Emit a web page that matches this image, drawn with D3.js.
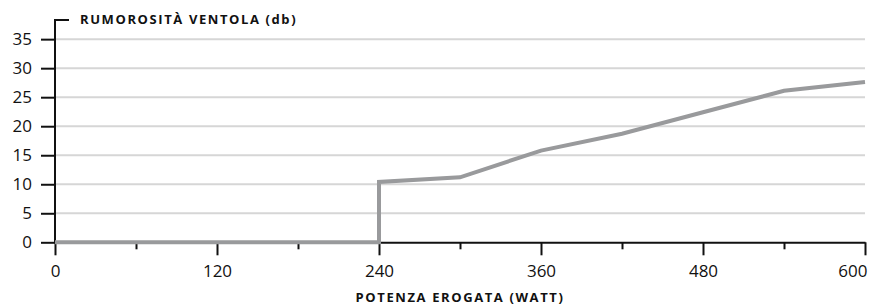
<!doctype html>
<html>
<head>
	<meta charset="utf-8">
	<script src="https://cdn.jsdelivr.net/npm/d3@7/dist/d3.min.js"></script>
	<style>
		body { margin: 0; background: #fff; }
		svg text { font-family: "Open Sans", Lato, sans-serif; fill: #111; }
		.tick text { font-size: 17px; }
		.title { font-size: 13px; font-weight: bold; letter-spacing: 1.6px; }
	</style>
</head>
<body>
<script>
	// data
	var watt  = [0, 240, 240, 300, 360, 420, 480, 540, 600];
	var noise = [0, 0, 10.4, 11.2, 15.8, 18.7, 22.4, 26.1, 27.6];
	var xTicks = [0, 120, 240, 360, 480, 600];
	var xMinor = [60, 180, 300, 420, 540];
	var yTicks = [0, 5, 10, 15, 20, 25, 30, 35];
	var yTitle = "RUMOROSITÀ VENTOLA (db)";
	var xTitle = "POTENZA EROGATA (WATT)";

	var W = 875, H = 306;
	var mLeft = 55, mRight = 865, mTop = 20, mBottom = 242.3;

	var svg = d3.select("body").append("svg")
		.attr("width", W)
		.attr("height", H);

	var x = d3.scaleLinear().domain([0, 600]).range([mLeft, mRight]);
	var y = d3.scaleLinear().domain([0, 38.3]).range([mBottom, mTop]);

	// grid
	svg.append("g")
		.selectAll("line")
		.data(yTicks.filter(d => d > 0))
		.enter().append("line")
			.attr("x1", mLeft).attr("x2", mRight)
			.attr("y1", d => y(d)).attr("y2", d => y(d))
			.attr("stroke", "#d6d6d6")
			.attr("stroke-width", 2);

	// y axis
	var yAxis = svg.append("g")
		.attr("transform", "translate(" + mLeft + ",0)")
		.call(d3.axisLeft(y).tickValues(yTicks).tickSize(14).tickPadding(9).tickSizeOuter(0));
	yAxis.select(".domain").remove();
	yAxis.selectAll(".tick line").attr("stroke", "#111").attr("stroke-width", 2);
	svg.append("path")
		.attr("d", "M" + (mLeft + 14) + "," + mTop + "H" + mLeft + "V" + mBottom)
		.attr("fill", "none")
		.attr("stroke", "#111")
		.attr("stroke-width", 2);

	// x axis
	var xAxis = svg.append("g")
		.attr("transform", "translate(0," + mBottom + ")")
		.call(d3.axisBottom(x).tickValues(xTicks).tickSize(13).tickPadding(10).tickSizeOuter(0));
	xAxis.select(".domain").attr("stroke", "#111").attr("stroke-width", 2);
	xAxis.selectAll(".tick line").attr("stroke", "#111").attr("stroke-width", 2);
	// last label sits left of its tick so it stays inside
	xAxis.selectAll(".tick text")
		.filter(d => d === 600)
		.attr("text-anchor", "end")
		.attr("x", 2);
	svg.append("g")
		.attr("transform", "translate(0," + mBottom + ")")
		.call(d3.axisBottom(x).tickValues(xMinor).tickSize(7).tickFormat(""))
		.call(g => g.select(".domain").remove())
		.selectAll(".tick line").attr("stroke", "#111").attr("stroke-width", 2);

	// line
	var pts = watt.map((w, i) => [w, noise[i]]);
	svg.append("path")
		.datum(pts)
		.attr("fill", "none")
		.attr("stroke", "#999a9c")
		.attr("stroke-width", 4)
		.attr("d", d3.line().x(d => x(d[0])).y(d => y(d[1])));

	// titles
	svg.append("text")
		.attr("class", "title")
		.attr("x", 80).attr("y", 24)
		.text(yTitle);
	svg.append("text")
		.attr("class", "title")
		.attr("x", (mLeft + mRight) / 2).attr("y", 302)
		.attr("text-anchor", "middle")
		.text(xTitle);
</script>
</body>
</html>
